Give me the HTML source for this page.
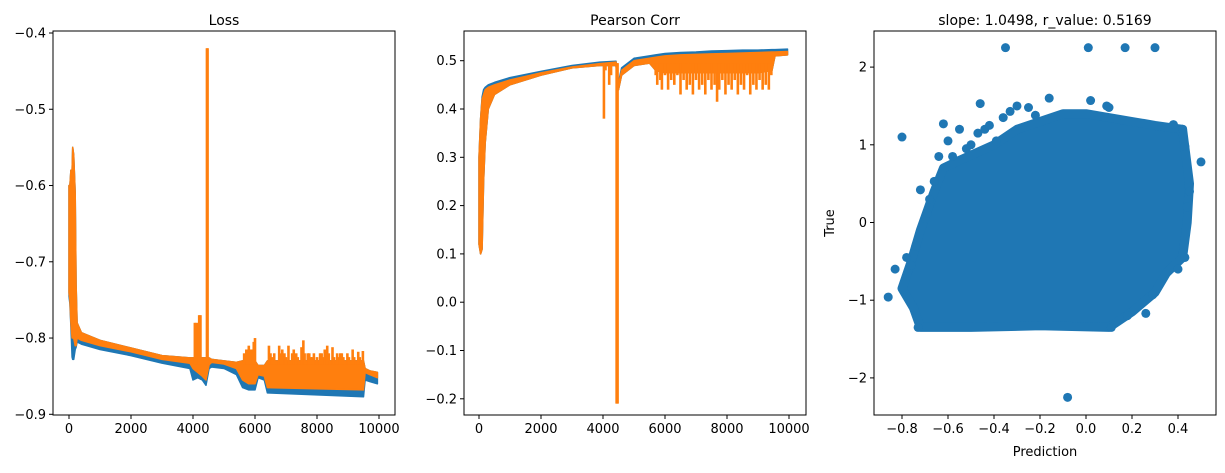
<!DOCTYPE html>
<html><head><meta charset="utf-8"><style>
body{margin:0;background:#fff;}
svg text{font-family:"DejaVu Sans","Liberation Sans",sans-serif;fill:#000;}
</style></head><body>
<svg id="fig" width="1225" height="468" viewBox="0 0 1225 468" xmlns="http://www.w3.org/2000/svg"></svg>
<script>
// ---- Loss data (band min/max per series) ----
const lossX =      [0,30,60,100,120,150,200,230,260,400,1000,2000,3000,3900,4000,4150,4300,4420,4520,4600,5000,5400,5600,5800,6000,6100,6300,6400,9500,9550,9700,9950];
const lossOrHi =   [-0.60,-0.60,-0.58,-0.58,-0.55,-0.56,-0.61,-0.73,-0.78,-0.793,-0.803,-0.813,-0.823,-0.826,-0.826,-0.826,-0.826,-0.826,-0.826,-0.828,-0.830,-0.832,-0.83,-0.83,-0.83,-0.836,-0.836,-0.83,-0.83,-0.84,-0.843,-0.845];
const lossOrLo =   [-0.74,-0.75,-0.78,-0.80,-0.80,-0.80,-0.81,-0.81,-0.80,-0.803,-0.810,-0.818,-0.828,-0.833,-0.84,-0.845,-0.85,-0.855,-0.835,-0.832,-0.834,-0.84,-0.855,-0.86,-0.86,-0.848,-0.85,-0.865,-0.868,-0.845,-0.848,-0.852];
const lossBlLo =   [-0.745,-0.755,-0.785,-0.825,-0.828,-0.828,-0.815,-0.812,-0.805,-0.808,-0.815,-0.823,-0.833,-0.84,-0.855,-0.852,-0.855,-0.862,-0.84,-0.838,-0.84,-0.848,-0.865,-0.868,-0.868,-0.852,-0.855,-0.872,-0.877,-0.855,-0.857,-0.86];
const lossSpikeX = [4060,4120,4200,4240,4450,4470,5650,5720,5800,5880,5960,6000,6450,6500,6550,6620,6700,6780,6830,6880,6950,7000,7080,7150,7200,7250,7330,7380,7420,7500,7560,7600,7650,7700,7750,7800,7850,7900,7950,8000,8050,8100,8150,8200,8250,8330,8380,8420,8500,8550,8600,8650,8700,8750,8800,8850,8900,8980,9030,9080,9150,9200,9250,9330,9380,9420,9480];
const lossSpikeY = [-0.78,-0.78,-0.77,-0.77,-0.42,-0.42,-0.82,-0.815,-0.81,-0.815,-0.805,-0.80,-0.81,-0.82,-0.825,-0.82,-0.83,-0.81,-0.82,-0.815,-0.82,-0.825,-0.81,-0.83,-0.82,-0.815,-0.82,-0.825,-0.83,-0.812,-0.803,-0.82,-0.83,-0.82,-0.82,-0.825,-0.825,-0.82,-0.83,-0.825,-0.83,-0.82,-0.82,-0.825,-0.815,-0.81,-0.82,-0.83,-0.812,-0.825,-0.83,-0.82,-0.825,-0.82,-0.82,-0.825,-0.83,-0.82,-0.825,-0.83,-0.815,-0.825,-0.83,-0.818,-0.825,-0.83,-0.817];
const lossYTicks = [-0.4,-0.5,-0.6,-0.7,-0.8,-0.9];
const xTicks = [0,2000,4000,6000,8000,10000];
// ---- Pearson data ----
const corrX =     [0,50,100,150,200,300,500,1000,2000,3000,3900,4420,4500,4600,5000,5500,5700,6000,6500,7000,7500,8000,8500,9000,9450,9550,9950];
const corrOrHi =  [0.30,0.38,0.42,0.43,0.44,0.445,0.45,0.46,0.475,0.487,0.494,0.497,0.45,0.48,0.500,0.505,0.507,0.51,0.512,0.513,0.514,0.515,0.516,0.517,0.518,0.518,0.519];
const corrOrLo =  [0.12,0.10,0.11,0.25,0.33,0.40,0.43,0.45,0.47,0.485,0.49,0.49,0.44,0.47,0.49,0.495,0.48,0.475,0.475,0.475,0.475,0.475,0.475,0.475,0.48,0.51,0.512];
const corrBlHi =  [0.30,0.38,0.425,0.44,0.445,0.45,0.455,0.465,0.478,0.49,0.497,0.499,0.455,0.485,0.505,0.51,0.512,0.515,0.517,0.518,0.52,0.521,0.522,0.522,0.523,0.523,0.524];
const corrDipX =  [4030,4080,4200,4260,4440,4470,5700,5750,5850,5900,6000,6100,6200,6300,6400,6500,6600,6700,6800,6900,7000,7100,7200,7300,7400,7500,7600,7680,7750,7850,7950,8050,8150,8250,8350,8450,8550,8650,8750,8850,8950,9050,9150,9250,9350,9430];
const corrDipY =  [0.38,0.48,0.45,0.47,-0.21,-0.21,0.47,0.45,0.46,0.44,0.47,0.44,0.46,0.45,0.47,0.43,0.46,0.44,0.45,0.43,0.46,0.44,0.45,0.43,0.46,0.44,0.45,0.415,0.44,0.46,0.43,0.45,0.44,0.46,0.43,0.45,0.44,0.47,0.43,0.45,0.44,0.46,0.44,0.45,0.44,0.47];
const corrYTicks = [0.5,0.4,0.3,0.2,0.1,0.0,-0.1,-0.2];
// ---- Scatter data ----
const hullPred = [-0.72,-0.5,-0.2,0.1,0.15,0.2,0.3,0.35,0.42,0.44,0.45,0.42,0.3,0.2,0.0,-0.1,-0.2,-0.3,-0.4,-0.55,-0.62,-0.66,-0.72,-0.76,-0.8,-0.75];
const hullTrue = [-1.35,-1.35,-1.33,-1.35,-1.25,-1.15,-0.9,-0.65,-0.45,0.0,0.5,1.2,1.25,1.3,1.4,1.4,1.3,1.2,1.0,0.8,0.7,0.4,-0.1,-0.5,-0.85,-1.1];
const outPred = [-0.35,0.01,0.17,0.3,-0.08,-0.8,-0.86,-0.83,0.5,-0.46,-0.16,0.02,0.09,-0.3,-0.25,-0.62,-0.55,-0.6,-0.5,-0.72,-0.68,-0.74,0.26,0.18,0.29,0.43,0.42,0.38,-0.36,-0.33,-0.47,-0.39,-0.64,-0.66,-0.7,-0.73,0.11,0.4,0.43,0.44,0.45,-0.22,0.1,-0.78,-0.76,-0.69,-0.58,-0.52,-0.44,-0.42];
const outTrue = [2.25,2.25,2.25,2.25,-2.25,1.1,-0.96,-0.6,0.78,1.53,1.6,1.57,1.5,1.5,1.48,1.27,1.2,1.05,1.0,0.42,0.3,-0.3,-1.17,-1.2,-0.93,0.98,1.2,1.26,1.35,1.43,1.15,1.05,0.85,0.53,0.05,-1.35,-1.35,-0.6,-0.45,0.2,0.4,1.38,1.48,-0.45,-0.55,0.12,0.85,0.95,1.2,1.25];
const scXTicks = [-0.8,-0.6,-0.4,-0.2,0.0,0.2,0.4];
const scYTicks = [2,1,0,-1,-2];

const NS="http://www.w3.org/2000/svg";
const svg=document.getElementById('fig');
function mk(tag,attrs,parent,name){const e=document.createElementNS(NS,tag);for(const k in attrs)e.setAttribute(k,attrs[k]);(parent||svg).appendChild(e);


return e;}
function txt(s,x,y,anchor,size,name,rot){const t=mk('text',{x:x,y:y,'text-anchor':anchor,'font-size':size},svg,name);if(rot)t.setAttribute('transform',rot);t.textContent=s;return t;}
function axesFrame(L,T,W,H,name){mk('rect',{x:L,y:T,width:W,height:H,fill:'none',stroke:'#000','stroke-width':1},svg,name);}
function xtick(px,B,label,name){mk('line',{x1:px,y1:B,x2:px,y2:B+4,stroke:'#000'},svg,name+'-tick');txt(label,px,B+18,'middle',13,name+'-label');}
function ytick(py,L,label,name){mk('line',{x1:L-4,y1:py,x2:L,y2:py,stroke:'#000'},svg,name+'-tick');txt(label,L-7,py+4.5,'end',13,name+'-label');}
function fmt(v,d){return (v<0?'\u2212':'')+Math.abs(v).toFixed(d);}
function band(xs,hi,lo,sx,sy,color,name){let d='';xs.forEach((x,i)=>{d+=(i?'L':'M')+sx(x).toFixed(1)+','+sy(hi[i]).toFixed(1);});for(let i=xs.length-1;i>=0;i--)d+='L'+sx(xs[i]).toFixed(1)+','+sy(lo[i]).toFixed(1);d+='Z';mk('path',{d:d,fill:color,stroke:color,'stroke-width':1.5,'stroke-linejoin':'round'},svg,name);}
function spikes(xs,ys,base,sx,sy,color,name){xs.forEach((x,i)=>{mk('line',{x1:sx(x),y1:sy(base),x2:sx(x),y2:sy(ys[i]),stroke:color,'stroke-width':2.6},svg,name);});}

// Panel 1: Loss
{const L=53,T=31,W=342,H=384,B=T+H;
const sx=v=>69+v*(310/10000), sy=v=>33+(-0.4-v)*762.6;
band(lossX,lossOrHi,lossBlLo,sx,sy,'#1f77b4','loss-series-blue');
band(lossX,lossOrHi,lossOrLo,sx,sy,'#ff7f0e','loss-series-orange');
spikes(lossSpikeX,lossSpikeY,-0.835,sx,sy,'#ff7f0e','loss-spike');
axesFrame(L,T,W,H,'loss-axes');
xTicks.forEach(v=>xtick(sx(v),B,String(v),'loss-x'));
lossYTicks.forEach(v=>ytick(sy(v),L,fmt(v,1),'loss-y'));
txt('Loss',L+W/2,25,'middle',14,'loss-title');}

// Panel 2: Pearson
{const L=464,T=31,W=342,H=384,B=T+H;
const sx=v=>479+v*(310/10000), sy=v=>60.7+(0.5-v)*483;
band(corrX,corrBlHi,corrOrLo,sx,sy,'#1f77b4','corr-series-blue');
band(corrX,corrOrHi,corrOrLo,sx,sy,'#ff7f0e','corr-series-orange');
spikes(corrDipX,corrDipY,0.495,sx,sy,'#ff7f0e','corr-dip');
axesFrame(L,T,W,H,'corr-axes');
xTicks.forEach(v=>xtick(sx(v),B,String(v),'corr-x'));
corrYTicks.forEach(v=>ytick(sy(v),L,fmt(v,1),'corr-y'));
txt('Pearson Corr',L+W/2,25,'middle',14,'corr-title');}

// Panel 3: Scatter
{const L=874,T=31,W=342,H=384,B=T+H;
const sx=v=>902+(v+0.8)*(276/1.2), sy=v=>222.5-v*77.7;
let d='';hullPred.forEach((p,i)=>{d+=(i?'L':'M')+sx(p).toFixed(1)+','+sy(hullTrue[i]).toFixed(1);});d+='Z';
mk('path',{d:d,fill:'#1f77b4',stroke:'#1f77b4','stroke-width':9,'stroke-linejoin':'round'},svg,'scatter-core');
outPred.forEach((p,i)=>{mk('circle',{cx:sx(p),cy:sy(outTrue[i]),r:4.5,fill:'#1f77b4'},svg,'scatter-point');});
axesFrame(L,T,W,H,'scatter-axes');
scXTicks.forEach(v=>xtick(sx(v),B,fmt(v,1),'scatter-x'));
scYTicks.forEach(v=>ytick(sy(v),L,fmt(v,0),'scatter-y'));
txt('slope: 1.0498, r_value: 0.5169',L+W/2,25,'middle',14,'scatter-title');
txt('Prediction',L+W/2,456,'middle',13,'x-axis-title');
txt('True',834,223,'middle',13,'y-axis-title','rotate(-90 834 223)');}
</script>
</body></html>
